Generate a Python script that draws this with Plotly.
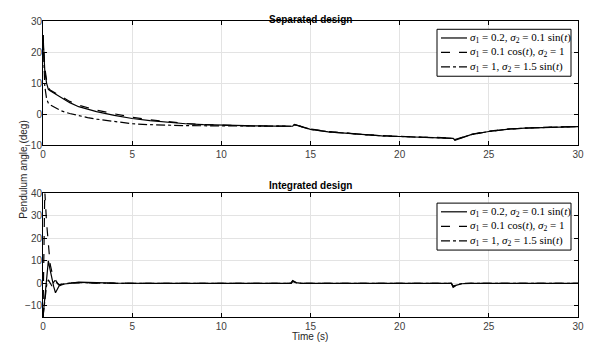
import plotly.graph_objects as go

# ---------------- data ----------------
t_top = [0, 0.1, 0.2, 0.3, 0.4, 0.6, 0.8, 1, 1.5, 2, 2.5, 3, 4, 5, 6, 7, 8, 9, 10,
         11, 12, 13, 14, 14.1, 14.5, 15, 16, 17, 18, 19, 20, 21, 22, 23, 23.1,
         23.5, 24, 25, 26, 27, 28, 29, 30]
top_solid = [25.5, 14, 10, 8, 7.5, 6.8, 6, 5.3, 3.7, 2.4, 1.5, 0.8, -0.4, -1.4, -2.1,
             -2.7, -3.1, -3.4, -3.6, -3.7, -3.8, -3.85, -3.9, -3.3, -4.0, -4.9, -5.7,
             -6.2, -6.7, -7.0, -7.2, -7.4, -7.6, -7.8, -8.4, -7.6, -6.6, -5.6, -4.9,
             -4.5, -4.3, -4.1, -4.0]
top_dash = [25.5, 15, 11, 8.5, 7.8, 7.1, 6.4, 5.7, 4.1, 2.9, 2.0, 1.3, 0.1, -1.0, -1.8,
            -2.5, -3.0, -3.35, -3.6, -3.7, -3.8, -3.85, -3.9, -3.4, -4.0, -4.8, -5.6,
            -6.2, -6.6, -6.9, -7.2, -7.4, -7.5, -7.7, -8.2, -7.5, -6.5, -5.5, -4.8,
            -4.5, -4.2, -4.1, -4.0]
top_dashdot = [25.5, 9, 5, 3.5, 3.0, 2.3, 1.6, 1.1, 0.2, -0.5, -1.1, -1.6, -2.4, -3.1,
               -3.4, -3.6, -3.7, -3.75, -3.8, -3.8, -3.85, -3.9, -3.9, -3.4, -4.0,
               -4.9, -5.7, -6.2, -6.7, -7.0, -7.2, -7.4, -7.6, -7.8, -8.3, -7.6,
               -6.6, -5.6, -4.9, -4.5, -4.3, -4.1, -4.0]

t_bot = [0, 0.1, 0.2, 0.3, 0.4, 0.5, 0.6, 0.7, 0.8, 0.9, 1.0, 1.2, 1.5, 2, 2.5, 3, 4,
         6, 10, 13.9, 14.0, 14.2, 14.5, 15, 20, 22.9, 23.0, 23.2, 23.5, 24, 30]
bot_solid = [-15, -6.7, 1.7, 10, 6, 2, -1.5, -4.2, -2.5, -1.2, -0.8, -0.3, 0, 0.5, 0.4,
             0.2, 0.05, 0, 0, 0, 1.2, 0.3, 0, 0, 0, 0, -1.8, -0.8, -0.2, 0, 0]
bot_dash = [-15, 41, 27, 16, 8.5, 5, 3, 1.5, 0, -0.8, -0.5, 0, 0.2, 0.3, 0.2, 0.1, 0,
            0, 0, 0, 0.8, 0.2, 0, 0, 0, 0, -1.3, -0.5, -0.1, 0, 0]
bot_dashdot = [-15, -7, -1, 1.5, 0, -1.2, 0.5, 1.5, 0.2, -0.6, -0.5, -0.2, 0.1, 0.3,
               0.2, 0.1, 0, 0, 0, 0, 1.0, 0.2, 0, 0, 0, 0, -1.5, -0.6, -0.1, 0, 0]

legend_names = [
    "<i>σ</i><sub>1</sub> = 0.2, <i>σ</i><sub>2</sub> = 0.1 sin(<i>t</i>)",
    "<i>σ</i><sub>1</sub> = 0.1 cos(<i>t</i>), <i>σ</i><sub>2</sub> = 1",
    "<i>σ</i><sub>1</sub> = 1, <i>σ</i><sub>2</sub> = 1.5 sin(<i>t</i>)",
]
dashes = ["solid", "dash", "dashdot"]
x_ticks = [0, 5, 10, 15, 20, 25, 30]
top_yticks = [-10, 0, 10, 20, 30]
bot_yticks = [-10, 0, 10, 20, 30, 40]

# ---------------- layout geometry ----------------
# the page body adds an 8px offset; the figure is sized so the page fits 600x353
OFF = 8
W, H = 584, 337
ML = 43 - OFF
MR = W - (578 - OFF)
MT = 20.7 - OFF
MB = H - (317 - OFF)
PW, PH = W - ML - MR, H - MT - MB


def px(xp):
    return (xp - OFF - ML) / PW


def py(yp):
    return (H - MB - (yp - OFF)) / PH


fig = go.Figure()
for ys, nm, d in zip([top_solid, top_dash, top_dashdot], legend_names, dashes):
    fig.add_trace(go.Scatter(x=t_top, y=ys, name=nm, mode="lines", showlegend=False,
                             line=dict(color="black", width=1.2, dash=d),
                             xaxis="x", yaxis="y"))
for ys, nm, d in zip([bot_solid, bot_dash, bot_dashdot], legend_names, dashes):
    fig.add_trace(go.Scatter(x=t_bot, y=ys, name=nm, mode="lines", showlegend=False,
                             line=dict(color="black", width=1.2, dash=d),
                             xaxis="x2", yaxis="y2"))

axis_common = dict(showline=True, linecolor="black", linewidth=1, mirror="ticks",
                   ticks="inside", ticklen=4, tickcolor="black", automargin=False,
                   showgrid=True, gridcolor="#e3e3e3", gridwidth=1, zeroline=False,
                   tickfont=dict(family="Liberation Sans, Arial", size=10, color="#404040"))

shapes = []
annotations = []
# manual legends (box + line samples + labels) for both panels
for top_y in (29, 203):
    shapes.append(dict(type="rect", xref="paper", yref="paper",
                       x0=px(437), x1=px(571), y0=py(top_y), y1=py(top_y + 47),
                       line=dict(color="black", width=1), fillcolor="white", layer="above"))
    for i, (nm, d) in enumerate(zip(legend_names, dashes)):
        yy = top_y + 8.7 + i * 14.5
        shapes.append(dict(type="line", xref="paper", yref="paper",
                           x0=px(441), x1=px(467), y0=py(yy), y1=py(yy),
                           line=dict(color="black", width=1.2, dash=d), layer="above"))
        annotations.append(dict(text=nm, x=px(468), y=py(yy), xref="paper", yref="paper",
                                xanchor="left", yanchor="middle", showarrow=False,
                                font=dict(family="Liberation Serif, Times New Roman",
                                          size=11, color="black")))

annotations += [
    dict(text="<b>Separated design</b>", x=px(310), y=py(12), xref="paper", yref="paper",
         showarrow=False, font=dict(family="Liberation Sans, Arial", size=10, color="black")),
    dict(text="<b>Integrated design</b>", x=px(310), y=py(185), xref="paper", yref="paper",
         showarrow=False, font=dict(family="Liberation Sans, Arial", size=10, color="black")),
    dict(text="Time (s)", x=px(310), y=py(344), xref="paper", yref="paper",
         showarrow=False, font=dict(family="Liberation Sans, Arial", size=10, color="#262626")),
    dict(text="Pendulum angle (deg)", x=px(16), y=py(170), xref="paper", yref="paper",
         textangle=-90, showarrow=False,
         font=dict(family="Liberation Sans, Arial", size=10, color="#262626")),
]

fig.update_layout(
    width=W, height=H, margin=dict(l=ML, r=MR, t=MT, b=MB, autoexpand=False),
    paper_bgcolor="white", plot_bgcolor="white", showlegend=False,
    xaxis=dict(domain=[0, 1], range=[0, 30], tickvals=x_ticks, anchor="y", **axis_common),
    yaxis=dict(domain=[py(145), 1], range=[-10, 30], tickvals=top_yticks, anchor="x",
               ticklabelstandoff=-2, **axis_common),
    xaxis2=dict(domain=[0, 1], range=[0, 30], tickvals=x_ticks, anchor="y2", **axis_common),
    yaxis2=dict(domain=[0, py(193.3)], range=[-15, 40], tickvals=bot_yticks, anchor="x2",
                ticklabelstandoff=-2, **axis_common),
    shapes=shapes, annotations=annotations,
)

fig.write_html("out.html")
